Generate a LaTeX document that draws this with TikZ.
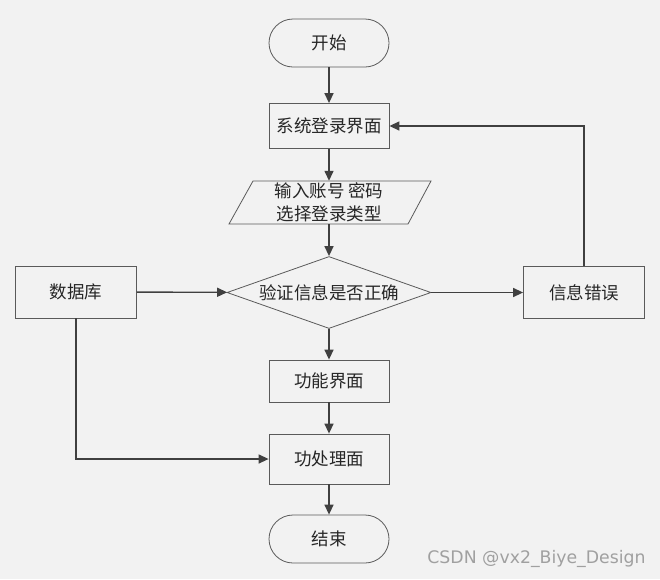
\documentclass[tikz,border=0pt]{standalone}
\usepackage{fontspec}
\newfontfamily\cjk{Noto Sans CJK SC}
\newfontfamily\wmfont{DejaVu Sans}
\usetikzlibrary{arrows.meta,shapes.geometric}
\definecolor{bg}{HTML}{F2F2F2}
\definecolor{edge}{HTML}{5A5A5A}
\definecolor{arrowc}{HTML}{404040}
\definecolor{wm}{HTML}{A0A0A0}
\tikzset{
  base/.style={draw=edge, fill=bg, line width=0.8pt, font=\cjk\fontsize{17.5}{20}\selectfont, text=black!85, inner sep=0pt},
  box/.style={base, rectangle, minimum width=120pt, minimum height=45pt},
  term/.style={base, rectangle, rounded corners=24pt, minimum width=120pt, minimum height=48pt},
  dec/.style={base, diamond, aspect=2.83, minimum width=204pt, minimum height=72pt},
  ghost/.style={rectangle, inner sep=0pt, minimum width=202pt, minimum height=43pt, font=\cjk\fontsize{17.5}{23}\selectfont, text=black!85, align=center},
  arr/.style={draw=arrowc, line width=1.4pt, -{Triangle[length=10pt,width=9pt]}},
  link/.style={draw=arrowc, line width=1.4pt}
}
\begin{document}
\begin{tikzpicture}[x=1pt,y=-1pt]
\fill[bg] (0,0) rectangle (660,579);
\useasboundingbox (0,0) rectangle (660,579);
\node[term] (start) at (329,43) {开始};
\node[box] (login) at (329,126) {系统登录界面};
\draw[base] (229,224) -- (253,181) -- (431,181) -- (408,224) -- cycle;
\node[ghost] (input) at (329,202.5) {输入账号 密码\\选择登录类型};
\node[dec] (check) at (329,292.5) {验证信息是否正确};
\node[box, minimum height=52pt, minimum width=121pt] (db) at (76,292) {数据库};
\node[box, minimum height=52pt, minimum width=121pt] (err) at (584,292.5) {信息错误};
\node[box, minimum height=42pt] (func) at (329,381) {功能界面};
\node[box, minimum height=50pt] (proc) at (329,459) {功处理面};
\node[term] (end) at (329,539) {结束};
\node[font=\wmfont\fontsize{17.3}{20}\selectfont, text=wm, inner sep=0pt] (mark) at (536.5,559) {CSDN @vx2\_Biye\_Design};
\draw[arr] (start) -- (login);
\draw[arr] (login) -- (input);
\draw[arr] (input) -- (check);
\draw[arr] (check) -- (func);
\draw[arr] (func) -- (proc);
\draw[arr] (proc) -- (end);
\draw[arr] (db) -- (check);
\draw[arr] (check) -- (err);
\draw[arr] (err.north) |- (login.east);
\draw[arr] (db.south) |- (proc.west);
\end{tikzpicture}
\end{document}
